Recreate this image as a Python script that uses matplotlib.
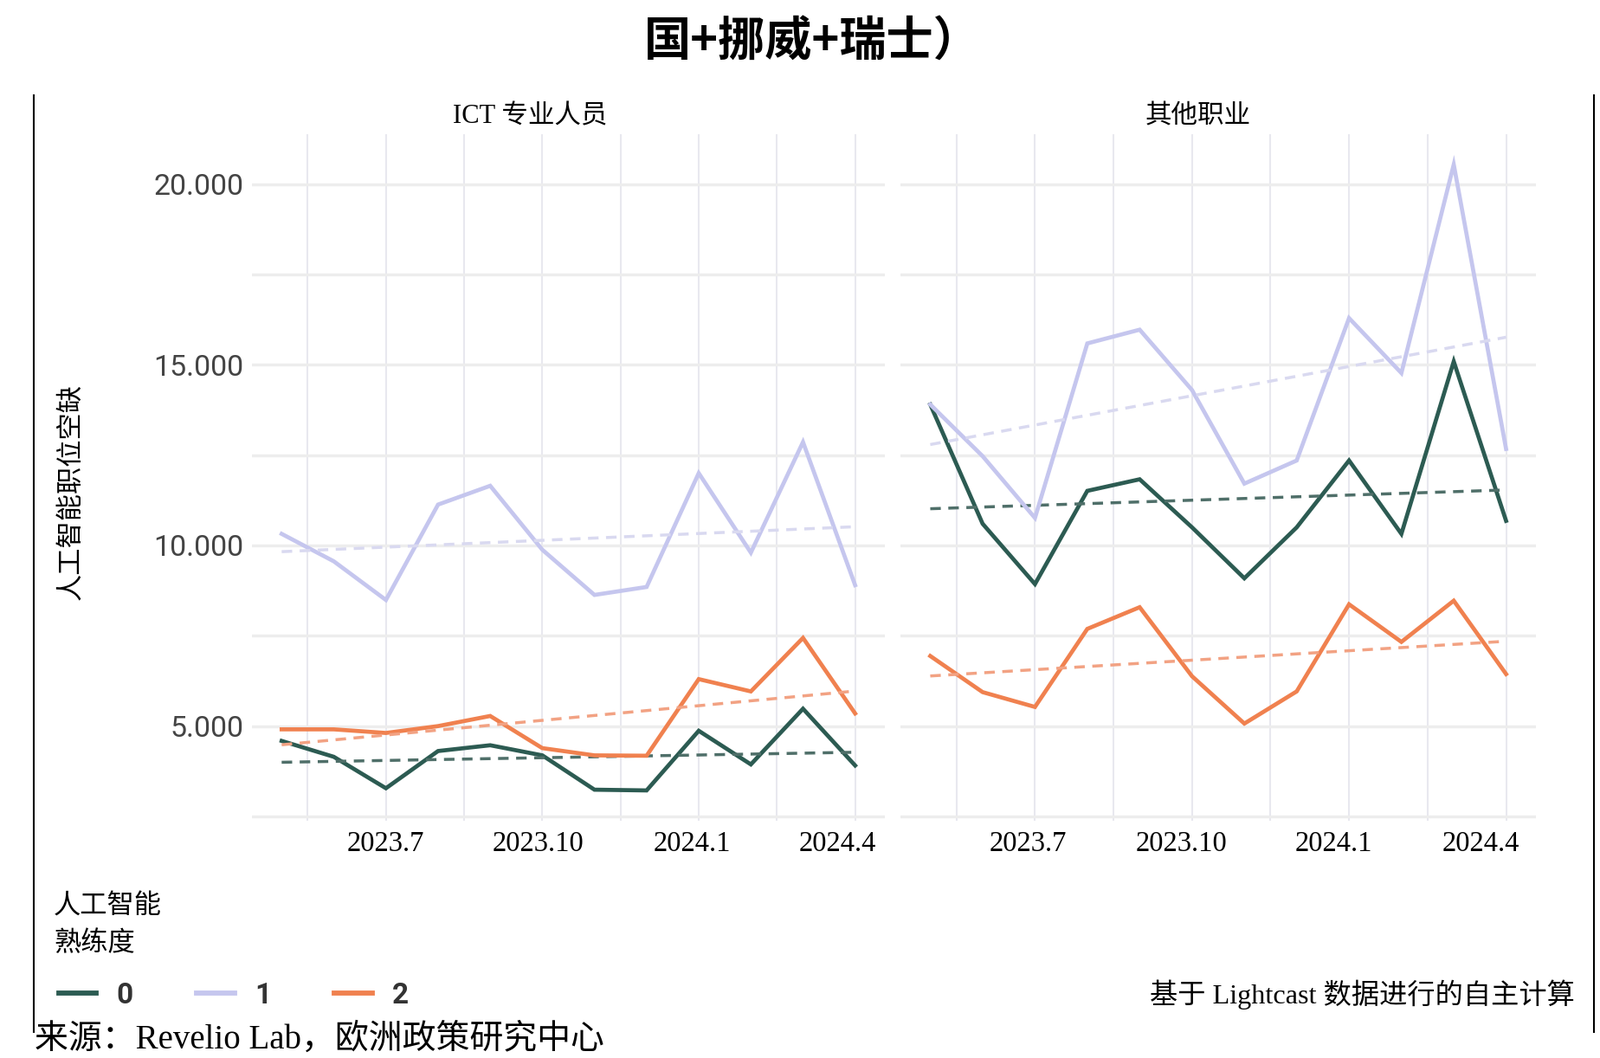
import numpy as np
import matplotlib
matplotlib.use("Agg")
import matplotlib.pyplot as plt
from matplotlib.lines import Line2D
from matplotlib.ticker import FixedLocator, FuncFormatter
from matplotlib.transforms import ScaledTranslation

# Dữ liệu: 12 tháng, 2023.5 -> 2024.4
months = ["2023.5", "2023.6", "2023.7", "2023.8", "2023.9", "2023.10",
          "2023.11", "2023.12", "2024.1", "2024.2", "2024.3", "2024.4"]
xtick_idx = [2, 5, 8, 11]
xtick_labels = ["2023.7", "2023.10", "2024.1", "2024.4"]
levels = ["0", "1", "2"]
panels = ["ICT 专业人员", "其他职业"]

ict_0 = [4590, 4150, 3280, 4310, 4470, 4190, 3240, 3220, 4870, 3940, 5480, 3910]
ict_1 = [10320, 9560, 8490, 11130, 11650, 9880, 8630, 8850, 12000, 9800, 12860, 8900]
ict_2 = [4910, 4910, 4810, 5000, 5280, 4390, 4190, 4180, 6300, 5960, 7440, 5350]

other_0 = [13900, 10600, 8930, 11510, 11830, 10500, 9090, 10500, 12350, 10320, 15090, 10680]
other_1 = [13900, 12470, 10760, 15590, 15970, 14300, 11710, 12350, 16290, 14770, 20540, 12670]
other_2 = [6940, 5940, 5530, 7690, 8290, 6380, 5070, 5960, 8370, 7330, 8470, 6440]

colors = ["#2c5b52", "#c5c6ee", "#f0814f"]
trend_colors = ["#4f6f69", "#d9d9f0", "#f2a283"]

W, H = 1848, 1222
SERIF = ["Liberation Serif", "Noto Sans CJK SC"]


def fx(px):
    return px / W


def fy(py):
    return 1 - py / H


def draw_panel(ax, series, show_y, label_shift):
    x = np.arange(len(months))
    for i, ys in enumerate(series):
        ys = np.array(ys, dtype=float)
        # đường xu hướng tuyến tính (lm)
        k, b = np.polyfit(x, ys, 1)
        ax.plot(x, k * x + b, color=trend_colors[i], lw=2.5,
                dashes=(3.5, 2.5), zorder=3 + i)
    for i, ys in enumerate(series):
        ax.plot(x, ys, color=colors[i], lw=3.4, solid_joinstyle="miter",
                zorder=2 + i)

    ax.set_xlim(-0.57, 11.57)
    ax.set_ylim(2380, 21380)
    ax.xaxis.set_major_locator(FixedLocator(xtick_idx))
    ax.xaxis.set_minor_locator(FixedLocator([0.5, 3.5, 6.5, 9.5]))
    ax.set_xticklabels(xtick_labels, family="Liberation Serif", fontsize=23.5)
    ax.yaxis.set_major_locator(FixedLocator([5000, 10000, 15000, 20000]))
    ax.yaxis.set_minor_locator(FixedLocator([2500, 7500, 12500, 17500]))
    ax.yaxis.set_major_formatter(FuncFormatter(lambda v, p: f"{v:,.0f}".replace(",", ".")))
    ax.tick_params(axis="both", which="both", length=0)
    ax.tick_params(axis="x", pad=8, colors="black")
    ax.tick_params(axis="y", pad=7, labelsize=24.5, labelcolor="#444444")
    for lab in ax.get_yticklabels():
        lab.set_family("Roboto")
    # nhãn trục x hơi lệch trái như bản gốc
    for lab, dx in zip(ax.get_xticklabels(), label_shift):
        lab.set_transform(lab.get_transform() +
                          ScaledTranslation(dx / 100, 0, fig.dpi_scale_trans))
    if not show_y:
        ax.tick_params(axis="y", labelleft=False)
    ax.yaxis.grid(True, which="both", color="#ededed", lw=2.4, zorder=0)
    ax.xaxis.grid(True, which="both", color="#e8e8ef", lw=1.5, zorder=0)
    for s in ax.spines.values():
        s.set_visible(False)


fig = plt.figure(figsize=(W / 100, H / 100), dpi=100)
ax1 = fig.add_axes([fx(291), fy(948), fx(1022 - 291), (948 - 155) / H])
ax2 = fig.add_axes([fx(1040), fy(948), fx(1774 - 1040), (948 - 155) / H])

draw_panel(ax1, [ict_0, ict_1, ict_2], True, [0, -5, -8, -20])
draw_panel(ax2, [other_0, other_1, other_2], False, [-8, -12, -18, -29])

# tiêu đề (dòng cuối, phần trên bị cắt)
fig.text(fx(938), fy(49), "国+挪威+瑞士）", ha="center", va="center",
         family=["Noto Sans CJK SC"], fontsize=39, fontweight="bold")
fig.text(fx(612), fy(135), panels[0], ha="center", va="center",
         family=SERIF, fontsize=22)
fig.text(fx(1384), fy(135), panels[1], ha="center", va="center",
         family=SERIF, fontsize=22)
fig.text(fx(84), fy(568), "人工智能职位空缺", rotation=90, ha="center",
         va="center", family=SERIF, fontsize=22.5)

# chú giải
fig.text(fx(62), fy(1048), "人工智能", ha="left", va="center",
         family=SERIF, fontsize=22.5)
fig.text(fx(62), fy(1090), "熟练度", ha="left", va="center",
         family=SERIF, fontsize=22.5)
handles = [Line2D([], [], color=c, lw=4.2) for c in colors]
leg = fig.legend(handles, levels, loc="center left",
                 bbox_to_anchor=(fx(68), fy(1150)), ncol=3, frameon=False,
                 handlelength=1.3, handletextpad=0.7, columnspacing=2.2,
                 borderpad=0, borderaxespad=0,
                 prop={"family": "Roboto", "weight": "bold", "size": 24})
for t in leg.get_texts():
    t.set_color("#333333")

fig.text(fx(1819), fy(1149), "基于 Lightcast 数据进行的自主计算", ha="right",
         va="center", family=SERIF, fontsize=23.2)
fig.text(fx(40), fy(1220), "来源：Revelio Lab，欧洲政策研究中心", ha="left",
         va="bottom", family=SERIF, fontsize=28)

# viền trái / phải của ảnh gốc
for xp in (39, 1841):
    fig.add_artist(Line2D([fx(xp), fx(xp)], [fy(110), fy(1192)],
                          transform=fig.transFigure, color="black", lw=1.5))

fig.savefig("out.png", dpi=100)
